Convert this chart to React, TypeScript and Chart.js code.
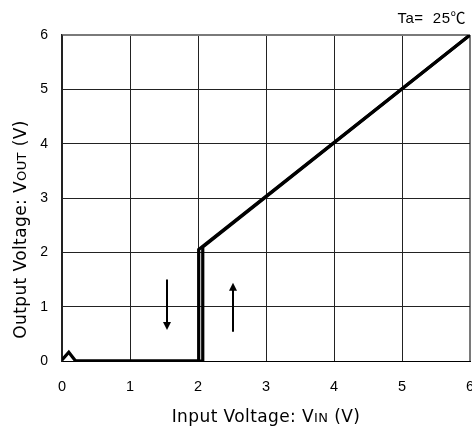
import React, { useEffect, useRef } from 'react';
import { Chart, registerables } from 'chart.js';

Chart.register(...registerables);

// Sweep up (VIN increasing)
const upX = [0, 0.1, 0.2, 2.07, 2.07, 6];
const upY = [0.02, 0.16, 0, 0, 2.1, 6];
// Sweep down (VIN decreasing)
const downX = [6, 2.01, 2.01, 0.2];
const downY = [6, 2.05, 0, 0];

// Direction arrows
const arrowX = [1.55, 2.52];
const arrowFrom = [1.5, 0.54];
const arrowTo = [0.57, 1.44];

const xTickValues = [0, 1, 2, 3, 4, 5, 6];
const yTickValues = [0, 1, 2, 3, 4, 5, 6];

const xTitleParts: [string, boolean][] = [['Input Voltage: V', false], ['IN', true], [' (V)', false]];
const yTitleParts: [string, boolean][] = [['Output Voltage: V', false], ['OUT', true], [' (V)', false]];
const tempLabel = 'Ta=  25℃';

const TITLE_FONT = '"DejaVu Sans", sans-serif';
const TICK_FONT = '"Liberation Sans", Arial, sans-serif';

function drawParts(ctx: CanvasRenderingContext2D, parts: [string, boolean][], cx: number, baseline: number) {
  const big = `17px ${TITLE_FONT}`;
  const small = `13px ${TITLE_FONT}`;
  (ctx as any).letterSpacing = '0.4px';
  let total = 0;
  const widths = parts.map(([t, s]) => {
    ctx.font = s ? small : big;
    const w = ctx.measureText(t).width;
    total += w;
    return w;
  });
  let x = cx - total / 2;
  ctx.textAlign = 'left';
  ctx.textBaseline = 'alphabetic';
  parts.forEach(([t, s], i) => {
    ctx.font = s ? small : big;
    ctx.fillText(t, x, baseline);
    x += widths[i];
  });
  (ctx as any).letterSpacing = '0px';
}

const decorPlugin = {
  id: 'decor',
  afterDatasetsDraw(chart: any) {
    const ctx: CanvasRenderingContext2D = chart.ctx;
    const xs = chart.scales.x;
    const ys = chart.scales.y;
    ctx.save();
    ctx.fillStyle = '#000';
    ctx.strokeStyle = '#000';
    ctx.lineWidth = 2;
    for (let i = 0; i < arrowX.length; i++) {
      const x = Math.round(xs.getPixelForValue(arrowX[i]));
      const y0 = ys.getPixelForValue(arrowFrom[i]);
      const y1 = ys.getPixelForValue(arrowTo[i]);
      const dir = Math.sign(y1 - y0);
      ctx.beginPath();
      ctx.moveTo(x, y0);
      ctx.lineTo(x, y1 - dir * 7);
      ctx.stroke();
      ctx.beginPath();
      ctx.moveTo(x - 4, y1 - dir * 8);
      ctx.lineTo(x + 4, y1 - dir * 8);
      ctx.lineTo(x, y1);
      ctx.closePath();
      ctx.fill();
    }
    ctx.restore();
  },
  afterDraw(chart: any) {
    const ctx: CanvasRenderingContext2D = chart.ctx;
    const area = chart.chartArea;
    ctx.save();
    ctx.fillStyle = '#000';
    ctx.font = `15px ${TICK_FONT}, "Noto Sans CJK JP"`;
    (ctx as any).letterSpacing = '0.5px';
    ctx.textAlign = 'right';
    ctx.textBaseline = 'alphabetic';
    ctx.fillText(tempLabel, 466, 23);
    (ctx as any).letterSpacing = '0px';

    drawParts(ctx, xTitleParts, (area.left + area.right) / 2, 422);

    ctx.translate(26, 229.5);
    ctx.rotate(-Math.PI / 2);
    drawParts(ctx, yTitleParts, 0, 0);
    ctx.restore();
  },
};

export default function App() {
  const ref = useRef<HTMLCanvasElement>(null);
  useEffect(() => {
    document.body.style.margin = '0';
    const canvas = ref.current;
    if (!canvas) return;
    const gridColor = (c: any) => (c.tick && c.tick.value === 6 ? '#7a7a7a' : '#222');
    const gridWidth = (c: any) => (c.tick && c.tick.value === 6 ? 2 : 1);
    const chart = new Chart(canvas, {
      type: 'line',
      data: {
        datasets: [
          {
            label: 'up',
            data: upX.map((x, i) => ({ x, y: upY[i] })),
            borderColor: '#000',
            borderWidth: 3.2,
            pointRadius: 0,
            tension: 0,
            fill: false,
          },
          {
            label: 'down',
            data: downX.map((x, i) => ({ x, y: downY[i] })),
            borderColor: '#000',
            borderWidth: 3.2,
            pointRadius: 0,
            tension: 0,
            fill: false,
          },
        ],
      },
      options: {
        responsive: false,
        animation: false,
        layout: { padding: { top: 35, right: 2, left: 0, bottom: 0 } },
        plugins: { legend: { display: false }, tooltip: { enabled: false }, title: { display: false } },
        scales: {
          x: {
            type: 'linear',
            min: 0,
            max: 6,
            afterBuildTicks: (s: any) => { s.ticks = xTickValues.map((v) => ({ value: v })); },
            afterFit: (s: any) => { s.height = 69; s.paddingLeft = 0; s.paddingRight = 0; },
            ticks: { color: '#000', font: { family: TICK_FONT, size: 14.5 }, padding: 17, maxRotation: 0 },
            grid: { color: gridColor, lineWidth: gridWidth, drawTicks: false },
            border: { color: '#000', width: 1 },
          },
          y: {
            type: 'linear',
            min: 0,
            max: 6,
            afterBuildTicks: (s: any) => { s.ticks = yTickValues.map((v) => ({ value: v })); },
            afterFit: (s: any) => { s.width = 62; s.paddingTop = 0; s.paddingBottom = 0; },
            ticks: { color: '#000', font: { family: TICK_FONT, size: 14 }, padding: 14 },
            grid: { color: gridColor, lineWidth: gridWidth, drawTicks: false },
            border: { color: '#222', width: 1.5 },
          },
        },
      },
      plugins: [decorPlugin],
    } as any);
    return () => chart.destroy();
  }, []);
  return (
    <div style={{ position: 'absolute', left: 0, top: 0, width: 472, height: 430 }}>
      <canvas ref={ref} width={472} height={430} style={{ display: 'block' }} />
    </div>
  );
}
